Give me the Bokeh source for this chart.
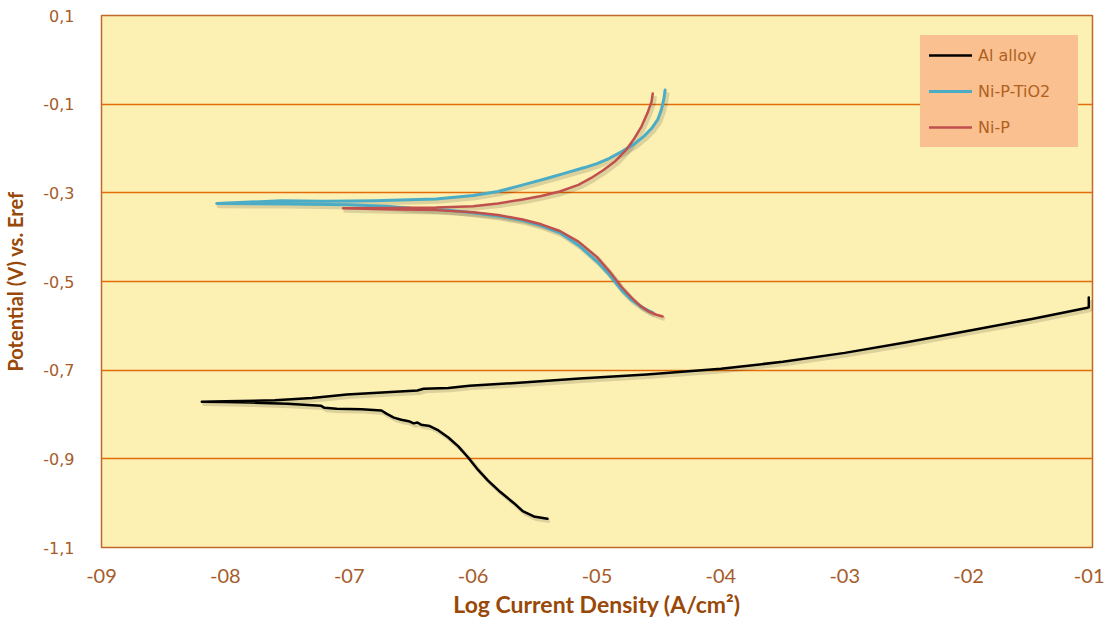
from bokeh.plotting import figure
from bokeh.models import FixedTicker, Legend, LegendItem
from bokeh.embed import file_html
from bokeh.resources import INLINE

# ---- data ----
x_ticks = [-9, -8, -7, -6, -5, -4, -3, -2, -1]
x_tick_labels = ["-09", "-08", "-07", "-06", "-05", "-04", "-03", "-02", "-01"]
y_ticks = [0.1, -0.1, -0.3, -0.5, -0.7, -0.9, -1.1]
y_tick_labels = ["0,1", "-0,1", "-0,3", "-0,5", "-0,7", "-0,9", "-1,1"]

series_names = ["Al alloy", "Ni-P-TiO2", "Ni-P"]

al_x = [-5.40, -5.51, -5.60, -5.67, -5.78, -5.88, -5.96, -6.04, -6.12, -6.20, -6.28, -6.35,
        -6.42, -6.45, -6.48, -6.52, -6.58, -6.64, -6.70, -6.74, -6.90, -7.10, -7.20, -7.23,
        -7.50, -7.80, -8.00, -8.19,
        -8.00, -7.60, -7.30, -7.02, -6.70, -6.45, -6.40, -6.20, -6.03, -5.60, -5.14, -4.60,
        -4.00, -3.50, -3.00, -2.50, -2.00, -1.50, -1.05, -1.03, -1.03]
al_y = [-1.035, -1.030, -1.018, -1.000, -0.975, -0.949, -0.925, -0.897, -0.872, -0.852, -0.836, -0.826,
        -0.823, -0.818, -0.820, -0.815, -0.812, -0.807, -0.798, -0.791, -0.788, -0.787, -0.785, -0.780,
        -0.776, -0.773, -0.772, -0.771,
        -0.770, -0.768, -0.763, -0.755, -0.750, -0.746, -0.742, -0.740, -0.735, -0.728, -0.719, -0.710,
        -0.697, -0.681, -0.661, -0.637, -0.611, -0.585, -0.560, -0.558, -0.536]

tio2_x = [-4.55, -4.59, -4.65, -4.72, -4.80, -4.90, -5.00, -5.15, -5.30, -5.45, -5.60, -5.80,
          -6.00, -6.20, -6.50, -6.70, -7.00, -7.50, -8.07,
          -7.55, -7.20, -6.80, -6.30, -6.00, -5.80, -5.65, -5.53, -5.40, -5.25, -5.10, -5.00,
          -4.90, -4.80, -4.70, -4.62, -4.56, -4.51, -4.48, -4.46, -4.45]
tio2_y = [-0.570, -0.565, -0.556, -0.542, -0.520, -0.485, -0.455, -0.418, -0.390, -0.374, -0.362, -0.352,
          -0.345, -0.339, -0.335, -0.330, -0.327, -0.325, -0.324,
          -0.318, -0.319, -0.318, -0.314, -0.306, -0.297, -0.286, -0.277, -0.267, -0.255, -0.243, -0.234,
          -0.222, -0.207, -0.190, -0.172, -0.155, -0.135, -0.112, -0.088, -0.068]

nip_x = [-4.47, -4.52, -4.58, -4.65, -4.72, -4.80, -4.90, -5.00, -5.15, -5.30, -5.45, -5.60,
         -5.80, -6.00, -6.30, -6.70, -7.05,
         -6.70, -6.30, -6.00, -5.80, -5.60, -5.45, -5.30, -5.15, -5.05, -4.95, -4.85, -4.77,
         -4.70, -4.64, -4.59, -4.56, -4.55]
nip_y = [-0.579, -0.575, -0.568, -0.555, -0.537, -0.513, -0.477, -0.445, -0.410, -0.386, -0.371, -0.360,
         -0.350, -0.344, -0.339, -0.337, -0.335,
         -0.334, -0.333, -0.330, -0.324, -0.315, -0.307, -0.297, -0.282, -0.267, -0.249, -0.228, -0.205,
         -0.178, -0.150, -0.118, -0.095, -0.076]

colors = ["#000000", "#4BACC6", "#C0504D"]
widths = [2.5, 3.0, 2.5]

# ---- figure ----
p = figure(width=1104, height=620, x_range=(-9, -1), y_range=(-1.1, 0.1),
           output_backend="svg", toolbar_location=None,
           min_border_left=100, min_border_right=12, min_border_top=15, min_border_bottom=73,
           background_fill_color="#FDF0B3", border_fill_color="white")
p.outline_line_color = "#C0692B"
p.outline_line_width = 1.5

p.xaxis.ticker = FixedTicker(ticks=x_ticks)
p.xaxis.major_label_overrides = dict(zip(x_ticks, x_tick_labels))
p.yaxis.ticker = FixedTicker(ticks=y_ticks)
p.yaxis.major_label_overrides = dict(zip(y_ticks, y_tick_labels))

for ax in (p.xaxis, p.yaxis):
    ax.axis_line_color = None
    ax.major_tick_line_color = None
    ax.minor_tick_line_color = None
    ax.major_label_text_color = "#A65C2A"
    ax.axis_label_text_color = "#984807"
    ax.axis_label_text_font_style = "bold"

p.xaxis.major_label_text_font = "Lato"
p.xaxis.major_label_text_font_size = "20px"
p.xaxis.major_label_standoff = 15
p.xaxis.axis_label = "Log Current Density (A/cm²)"
p.xaxis.axis_label_text_font = "Lato"
p.xaxis.axis_label_text_font_size = "23px"
p.xaxis.axis_label_standoff = 4

p.yaxis.major_label_text_font = "DejaVu Sans"
p.yaxis.major_label_text_font_size = "16px"
p.yaxis.major_label_standoff = 21
p.yaxis.axis_label = "Potential (V) vs. Eref"
p.yaxis.axis_label_text_font = "Lato"
p.yaxis.axis_label_text_font_size = "20px"
p.yaxis.axis_label_standoff = 13

p.xgrid.visible = False
p.ygrid.grid_line_color = "#E46C0A"
p.ygrid.grid_line_width = 1.3

# ---- lines ----
all_x = [al_x, tio2_x, nip_x]
all_y = [al_y, tio2_y, nip_y]
sdx, sdy = 0.018, -0.0055  # drop shadow offset (about 2 px)
renderers = []
for xs, ys, c, w in zip(all_x, all_y, colors, widths):
    p.line([v + sdx for v in xs], [v + sdy for v in ys], line_color="#000000",
           line_alpha=0.13, line_width=w + 1.5, line_join="round")
for xs, ys, c, w in zip(all_x, all_y, colors, widths):
    r = p.line(xs, ys, line_color=c, line_width=w, line_join="round", line_cap="round")
    renderers.append(r)

legend = Legend(items=[LegendItem(label=n, renderers=[r]) for n, r in zip(series_names, renderers)],
                location=(819, 400), orientation="vertical")
legend.background_fill_color = "#FAC090"
legend.background_fill_alpha = 1.0
legend.border_line_color = "#FAC090"
legend.border_line_width = 1
legend.label_text_font = "DejaVu Sans"
legend.label_text_font_size = "16px"
legend.label_text_color = "#B0601F"
legend.glyph_width = 43
legend.label_standoff = 6
legend.label_height = 22
legend.glyph_height = 22
legend.spacing = 14
legend.padding = 8
legend.margin = 0
legend.label_width = 91
p.add_layout(legend)

open("out.html", "w").write(file_html(p, INLINE))
